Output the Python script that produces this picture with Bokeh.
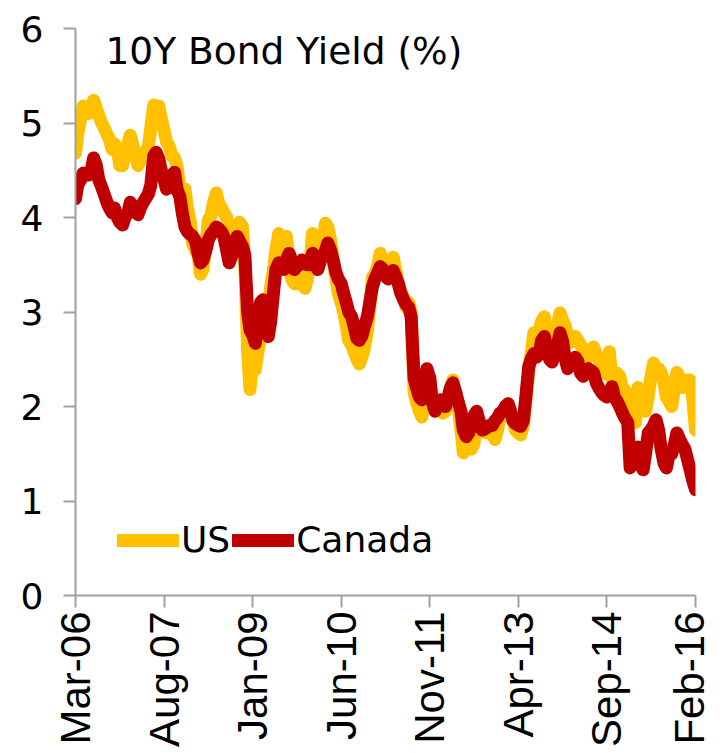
import math
import pandas as pd
from bokeh.plotting import figure
from bokeh.models import (Range1d, FixedTicker, DatetimeTickFormatter, Label,
                          Legend, LegendItem)
from bokeh.embed import file_html
from bokeh.resources import INLINE

# ---------------- data (semi-monthly readings, 1st & 15th, from Mar-2006) ----------------
start_date = "2006-03-01"
tick_labels = ["Mar-06", "Aug-07", "Jan-09", "Jun-10", "Nov-11", "Apr-13", "Sep-14", "Feb-16"]
y_ticks = [0, 1, 2, 3, 4, 5, 6]
series_names = ["US", "Canada"]
series_colors = ["#FFC000", "#C00000"]
title_text = "10Y Bond Yield (%)"

us = [
    4.68, 4.90, 5.05, 5.18, 5.15, 5.10, 5.17, 5.24, 5.15, 5.08,
    5.00, 4.95, 4.88, 4.83, 4.72, 4.78, 4.72, 4.55, 4.55, 4.68,
    4.78, 4.87, 4.75, 4.65, 4.55, 4.60, 4.68, 4.70, 4.75, 4.95,
    5.19, 5.10, 5.18, 5.05, 4.92, 4.80, 4.75, 4.65, 4.63, 4.55,
    4.30, 4.22, 4.30, 4.10,
    3.95, 3.72, 3.65, 3.60, 3.40, 3.45, 3.70, 3.97, 4.02, 4.15,
    4.26, 4.15, 4.10, 4.05, 4.00, 3.85, 3.80, 3.85, 3.90, 3.95,
    3.90, 3.50, 2.60, 2.18,
    2.50, 2.39, 2.60, 2.75, 2.81, 2.74, 2.95, 3.27, 3.45, 3.65,
    3.83, 3.55, 3.70, 3.80, 3.55, 3.35, 3.30, 3.30, 3.30, 3.35,
    3.25, 3.35, 3.50, 3.83,
    3.65, 3.68, 3.72, 3.75, 3.94, 3.90, 3.75, 3.55, 3.35, 3.20,
    3.10, 3.00, 2.85, 2.70, 2.65, 2.58, 2.50, 2.45, 2.53, 2.62,
    2.80, 3.05, 3.37, 3.40,
    3.50, 3.62, 3.50, 3.40, 3.50, 3.55, 3.58, 3.45, 3.30, 3.22,
    3.15, 3.05, 3.10, 3.00, 2.15, 2.05, 1.95, 1.89, 2.10, 2.35,
    2.30, 2.05, 2.02, 2.05,
    1.97, 1.93, 1.95, 2.05, 2.20, 2.28, 2.10, 2.00, 1.75, 1.51,
    1.60, 1.60, 1.55, 1.60, 1.80, 1.85, 1.78, 1.73, 1.72, 1.75,
    1.72, 1.65, 1.75, 1.88,
    1.90, 1.98, 2.03, 1.95, 1.85, 1.75, 1.72, 1.70, 1.80, 2.05,
    2.36, 2.55, 2.78, 2.65, 2.80, 2.90, 2.95, 2.65, 2.65, 2.62,
    2.75, 2.85, 2.99, 2.92,
    2.85, 2.75, 2.68, 2.72, 2.74, 2.70, 2.65, 2.60, 2.55, 2.52,
    2.60, 2.63, 2.55, 2.50, 2.42, 2.35, 2.50, 2.58, 2.30, 2.20,
    2.35, 2.32, 2.20, 2.17,
    2.05, 2.00, 1.85, 1.83, 2.20, 2.05, 2.00, 1.95, 2.10, 2.30,
    2.46, 2.40, 2.40, 2.36, 2.25, 2.10, 2.05, 2.00, 2.20, 2.36,
    2.30, 2.20, 2.25, 2.28,
    2.28, 2.10, 1.75,
]

canada = [
    4.20, 4.35, 4.40, 4.47, 4.45, 4.45, 4.50, 4.63, 4.55, 4.40,
    4.32, 4.25, 4.16, 4.10, 4.05, 4.10, 4.00, 3.95, 3.92, 4.00,
    4.05, 4.16, 4.12, 4.06, 4.03, 4.10, 4.16, 4.20, 4.25, 4.34,
    4.65, 4.69, 4.62, 4.50, 4.40, 4.30, 4.35, 4.45, 4.48, 4.30,
    4.22, 4.05, 3.90, 3.85,
    3.82, 3.80, 3.75, 3.62, 3.52, 3.55, 3.65, 3.76, 3.82, 3.85,
    3.90, 3.88, 3.85, 3.80, 3.65, 3.52, 3.60, 3.70, 3.80, 3.75,
    3.69, 3.60, 3.00, 2.81,
    2.75, 2.67, 2.95, 3.10, 3.13, 2.85, 2.74, 2.90, 3.20, 3.45,
    3.52, 3.48, 3.45, 3.55, 3.62, 3.55, 3.45, 3.48, 3.50, 3.55,
    3.53, 3.50, 3.50, 3.62,
    3.50, 3.45, 3.55, 3.60, 3.65, 3.73, 3.65, 3.55, 3.42, 3.35,
    3.30, 3.20, 3.10, 3.00, 2.95, 2.85, 2.72, 2.70, 2.75, 2.85,
    2.95, 3.10, 3.27, 3.35,
    3.42, 3.48, 3.45, 3.38, 3.35, 3.40, 3.44, 3.38, 3.30, 3.20,
    3.13, 3.08, 3.05, 2.95, 2.30, 2.20, 2.10, 2.07, 2.20, 2.40,
    2.30, 2.05, 1.95, 2.00,
    2.07, 2.03, 2.00, 2.10, 2.20, 2.25, 2.15, 2.05, 1.95, 1.75,
    1.68, 1.72, 1.80, 1.90, 1.95, 1.85, 1.75, 1.76, 1.78, 1.80,
    1.80, 1.85, 1.88, 1.93,
    1.95, 2.00, 2.03, 1.95, 1.85, 1.82, 1.80, 1.79, 1.85, 2.10,
    2.42, 2.50, 2.56, 2.52, 2.55, 2.70, 2.74, 2.60, 2.50, 2.47,
    2.55, 2.65, 2.78, 2.70,
    2.50, 2.40, 2.45, 2.50, 2.52, 2.48, 2.35, 2.32, 2.38, 2.40,
    2.38, 2.36, 2.25, 2.20, 2.15, 2.12, 2.10, 2.15, 2.21, 2.10,
    2.05, 2.00, 1.93, 1.88,
    1.83, 1.35, 1.40, 1.50, 1.57, 1.40, 1.33, 1.50, 1.72, 1.75,
    1.80, 1.86, 1.75, 1.55, 1.40, 1.35, 1.50, 1.50, 1.60, 1.72,
    1.65, 1.60, 1.55, 1.45,
    1.33, 1.22, 1.12,
]

# ---------------- figure ----------------
tick_dates = pd.to_datetime(tick_labels, format="%b-%y")
us_dates = pd.date_range(start_date, periods=len(us), freq="SMS")
ca_dates = pd.date_range(start_date, periods=len(canada), freq="SMS")

p = figure(width=712, height=749, x_axis_type="datetime",
           output_backend="svg", toolbar_location=None,
           x_range=Range1d(tick_dates[0].to_pydatetime(), tick_dates[-1].to_pydatetime()),
           y_range=Range1d(y_ticks[0], y_ticks[-1]),
           min_border_left=75, min_border_right=17, min_border_top=28,
           min_border_bottom=149)
p.outline_line_color = None
p.xgrid.visible = False
p.ygrid.visible = False
p.background_fill_color = "white"
p.border_fill_color = "white"

r_us = p.line(us_dates, us, line_color=series_colors[0], line_width=13,
              line_join="round", line_cap="round")
r_ca = p.line(ca_dates, canada, line_color=series_colors[1], line_width=13,
              line_join="round", line_cap="round")

axis_col = "#a0a0a0"
for ax in (p.xaxis[0], p.yaxis[0]):
    ax.axis_line_color = axis_col
    ax.axis_line_width = 2
    ax.major_tick_line_color = axis_col
    ax.major_tick_line_width = 2
    ax.major_tick_out = 12
    ax.major_tick_in = 0
    ax.minor_tick_line_color = None
    ax.major_label_text_color = "black"

p.yaxis.ticker = FixedTicker(ticks=y_ticks)
p.yaxis.major_label_text_font = "DejaVu Sans"
p.yaxis.major_label_text_font_size = "36px"
p.yaxis.major_label_standoff = 20

p.xaxis.ticker = FixedTicker(ticks=[d.value / 1e6 for d in tick_dates])
fmt = "%b-%y"
p.xaxis.formatter = DatetimeTickFormatter(
    milliseconds=fmt, seconds=fmt, minsec=fmt, minutes=fmt, hourmin=fmt,
    hours=fmt, days=fmt, months=fmt, years=fmt)
p.xaxis.major_label_orientation = math.pi / 2
p.xaxis.major_label_text_font = "Liberation Sans"
p.xaxis.major_label_text_font_size = "42px"
p.xaxis.major_label_standoff = 4

title = Label(x=30, y=545, x_units="screen", y_units="screen", text=title_text,
              text_font="DejaVu Sans", text_font_size="37.5px",
              text_baseline="middle", text_align="left", text_color="black")
p.add_layout(title)

legend = Legend(items=[LegendItem(label=series_names[0], renderers=[r_us]),
                       LegendItem(label=series_names[1], renderers=[r_ca])],
                orientation="horizontal", location=(42, 35),
                padding=0, margin=0, spacing=2,
                glyph_width=62, glyph_height=40, label_height=40,
                label_standoff=2, label_text_color="black",
                label_text_font="DejaVu Sans", label_text_font_size="36px",
                background_fill_alpha=0, border_line_color=None)
p.add_layout(legend)

open("out.html", "w").write(file_html(p, INLINE))
